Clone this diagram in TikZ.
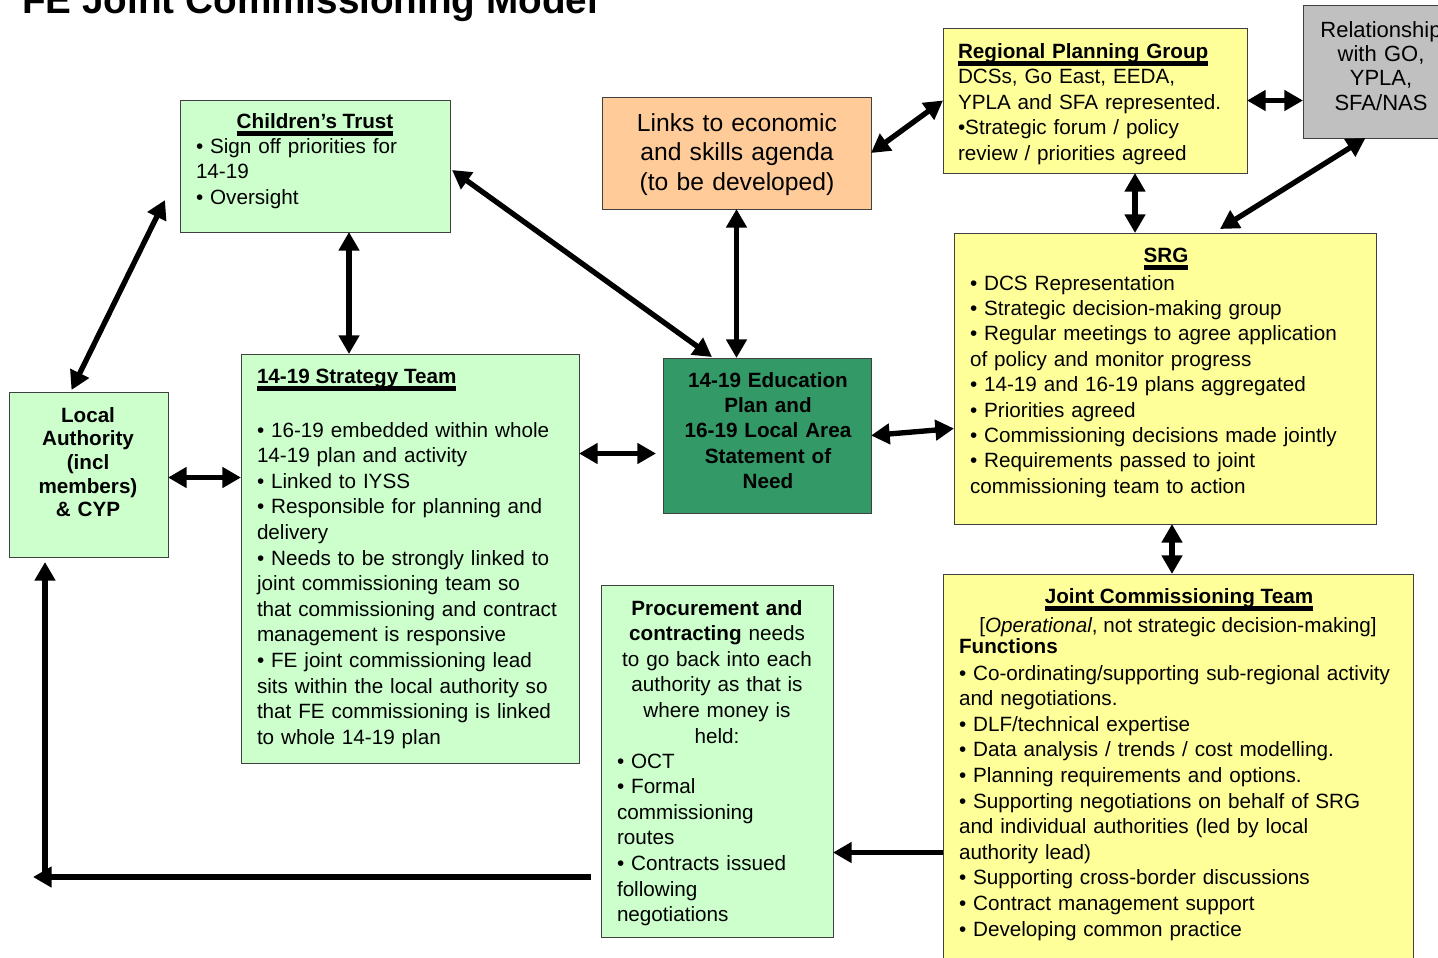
\documentclass[tikz,border=0pt]{standalone}
\usepackage{fontspec}
\setmainfont{Liberation Sans}
\usetikzlibrary{arrows.meta,fit,calc}

\definecolor{paleGreen}{HTML}{CCFFCC}
\definecolor{peach}{HTML}{FFCC99}
\definecolor{paleYellow}{HTML}{FFFF99}
\definecolor{silverGrey}{HTML}{C0C0C0}
\definecolor{seaGreen}{HTML}{339966}

% heading with a heavy underline
\newcommand\hdr[1]{\setbox0=\hbox{\bfseries #1}\leavevmode\rlap{\rule[-6pt]{\wd0}{4pt}}\box0}

\begin{document}
\begin{tikzpicture}[x=0.75pt,y=-0.75pt,
  box/.style={draw=black!75, line width=0.75pt, inner sep=0pt, outer sep=0pt},
  body/.style={inner sep=0pt, outer sep=0pt, font=\fontsize{15.5}{19.2}\selectfont},
  lefttext/.style={body, align=left, anchor=base west},
  midtext/.style={body, align=center, anchor=base},
  link/.style={line width=4pt, {Triangle[length=14pt,width=15pt]}-{Triangle[length=14pt,width=15pt]}},
  oneway/.style={line width=4pt, -{Triangle[length=14pt,width=15pt]}},
]
\fill[white] (0,0) rectangle (1438,957);
\useasboundingbox (0,0) rectangle (1438,957);

% title
\node[anchor=base west, inner sep=0pt, font=\fontsize{29}{33}\selectfont\bfseries] (title) at (22,13) {FE Joint Commissioning Model};

% boxes
\node[box, fill=paleGreen, fit={(180,100)(450,232)}] (ct) {};
\node[box, fill=peach, fit={(602,97)(871,209)}] (links) {};
\node[box, fill=paleYellow, fit={(943,28)(1247,173)}] (rpg) {};
\node[box, fill=silverGrey, fit={(1303,5)(1460,138)}] (rel) {};
\node[box, fill=paleYellow, fit={(954,233)(1376,524)}] (srg) {};
\node[box, fill=paleYellow, fit={(943,574)(1413,975)}] (jct) {};
\node[box, fill=paleGreen, fit={(601,585)(833,937)}] (proc) {};
\node[box, fill=paleGreen, fit={(241,354)(579,763)}] (st) {};
\node[box, fill=seaGreen, fit={(663,358)(871,513)}] (ed) {};
\node[box, fill=paleGreen, fit={(9,392)(168,557)}] (la) {};

% Children's Trust
\node[midtext] (ctHead) at (315,128) {\hdr{Children’s Trust}};
\node[lefttext, text width=185pt] (ctBody) at (196,153) {• Sign off priorities for\\14-19\\• Oversight};

% economic links
\node[midtext, text width=190pt, font=\fontsize{18.5}{22.2}\selectfont] (linksTxt) at (737,131) {Links to economic\\and skills agenda\\(to be developed)};

% regional planning group
\node[lefttext, text width=215pt] (rpgTxt) at (958,58) {\hdr{Regional Planning Group}\\DCSs, Go East, EEDA,\\YPLA and SFA represented.\\•Strategic forum / policy\\review / priorities agreed};

% national bodies
\node[midtext, text width=110pt, font=\fontsize{16.5}{18.3}\selectfont] (relTxt) at (1381,37) {Relationship\\with GO,\\YPLA,\\SFA/NAS};

% SRG
\node[midtext] (srgHead) at (1166,262) {\hdr{SRG}};
\node[lefttext, text width=300pt, font=\fontsize{15.5}{19.05}\selectfont] (srgTxt) at (970,290) {• DCS Representation\\• Strategic decision-making group\\• Regular meetings to agree application\\of policy and monitor progress\\• 14-19 and 16-19 plans aggregated\\• Priorities agreed\\• Commissioning decisions made jointly\\• Requirements passed to joint\\commissioning team to action};

% Joint Commissioning Team
\node[midtext] (jctHead) at (1179,603) {\hdr{Joint Commissioning Team}};
\node[midtext] (jctNote) at (1178,632) {[\textit{Operational}, not strategic decision-making]};
\node[lefttext, font=\fontsize{15.5}{19.2}\selectfont\bfseries] (jctFn) at (959,653) {Functions};
\node[lefttext, text width=340pt] (jctTxt) at (959,680) {• Co-ordinating/supporting sub-regional activity\\and negotiations.\\• DLF/technical expertise\\• Data analysis / trends / cost modelling.\\• Planning requirements and options.\\• Supporting negotiations on behalf of SRG\\and individual authorities (led by local\\authority lead)\\• Supporting cross-border discussions\\• Contract management support\\• Developing common practice};

% procurement
\node[midtext, text width=165pt] (procTop) at (717,615) {\textbf{Procurement and}\\\textbf{contracting} needs\\to go back into each\\authority as that is\\where money is\\held:};
\node[lefttext, text width=165pt] (procList) at (617,768) {• OCT\\• Formal\\commissioning\\routes\\• Contracts issued\\following\\negotiations};

% 14-19 strategy team
\node[lefttext] (stHead) at (257,383) {\hdr{14-19 Strategy Team}};
\node[lefttext, text width=240pt] (stTxt) at (257,437) {• 16-19 embedded within whole\\14-19 plan and activity\\• Linked to IYSS\\• Responsible for planning and\\delivery\\• Needs to be strongly linked to\\joint commissioning team so\\that commissioning and contract\\management is responsive\\• FE joint commissioning lead\\sits within the local authority so\\that FE commissioning is linked\\to whole 14-19 plan};

% education plan
\node[midtext, text width=150pt, font=\fontsize{15.5}{19.1}\selectfont\bfseries] (edTxt) at (768,387) {14-19 Education\\Plan and\\16-19 Local Area\\Statement of\\Need};

% local authority
\node[midtext, text width=110pt, font=\fontsize{15.5}{17.8}\selectfont\bfseries] (laTxt) at (88,422) {Local\\Authority\\(incl\\members)\\\& CYP};

% connectors
\draw[link] ([shift={(-17,-2)}]la.north) -- ([shift={(-15,34)}]ct.west);
\draw[link] ([shift={(34,0)}]ct.south) -- ([shift={(-61,0)}]st.north);
\draw[link] ([shift={(2,4)}]ct.east) -- ([shift={(-55,-1)}]ed.north);
\draw[link] (links.south) -- (links.south |- ed.north);
\draw[link] (links.east) -- (rpg.west);
\draw[link] (rpg.east) -- (rpg.east -| rel.west);
\draw[link] ([shift={(40,0)}]rpg.south) -- ([shift={(40,0)}]rpg.south |- srg.north);
\draw[link] ([shift={(55,-4)}]srg.north) -- ([shift={(-16,0)}]rel.south);
\draw[link] (ed.east) -- ([shift={(0,50)}]srg.west);
\draw[link] ([shift={(0,3)}]la.east) -- ([shift={(0,3)}]la.east -| st.west);
\draw[link] ([shift={(0,18)}]ed.west -| st.east) -- ([shift={(-7,18)}]ed.west);
\draw[link] ([shift={(7,0)}]srg.south) -- ([shift={(7,0)}]srg.south |- jct.north);
\draw[oneway] ([shift={(0,78)}]jct.west) -- ([shift={(0,78)}]jct.west -| proc.east);
\coordinate (lcorner) at (33,877);
\draw[oneway] ([shift={(-10,116)}]proc.west) -- (lcorner);
\draw[oneway] ([shift={(-43.5,2)}]la.south |- lcorner) -- ([shift={(-43.5,5)}]la.south);
\end{tikzpicture}
\end{document}
